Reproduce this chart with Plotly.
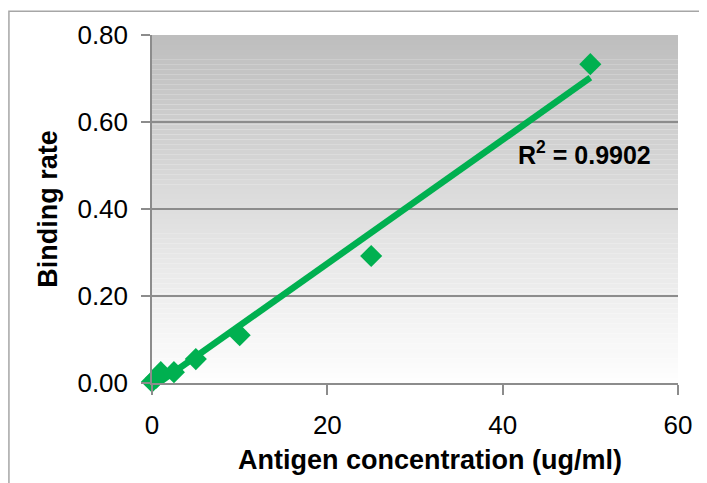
import numpy as np
import plotly.graph_objects as go

# data
concentration = [0, 0.5, 1, 2.5, 5, 10, 25, 50]          # ug/ml
binding_rate = [0.003, 0.012, 0.025, 0.025, 0.055, 0.11, 0.292, 0.733]
r2_text = "R<sup>2</sup> = 0.9902"
x_ticks = [0, 20, 40, 60]
y_ticks = [0.0, 0.2, 0.4, 0.6, 0.8]

GREEN = "#00B050"
GRID = "#8c8c8c"
FONT = "Liberation Sans, Arial, sans-serif"

# linear trendline fitted to the points
slope, intercept = np.polyfit(concentration, binding_rate, 1)
fit_x = [min(concentration), max(concentration)]
fit_y = [slope * v + intercept for v in fit_x]

fig = go.Figure()

# gradient background: grey at top fading to white
n_bands = 70
shapes = []
for i in range(n_bands):
    t = i / (n_bands - 1)
    c = int(round(254 - (254 - 190) * t))
    shapes.append(dict(
        type="rect", xref="x domain", yref="y domain",
        x0=0, x1=1, y0=i / n_bands, y1=(i + 1) / n_bands,
        fillcolor=f"rgb({c},{c},{c})", line_width=0, layer="below",
    ))
# outer chart border (only left/top edges fall inside the window)
shapes.append(dict(
    type="rect", xref="paper", yref="paper",
    x0=-0.272, x1=1.2, y0=-0.5, y1=1.0686,
    line=dict(color="#a6a6a6", width=1.5), fillcolor="rgba(0,0,0,0)",
))

fig.add_trace(go.Scatter(
    x=fit_x, y=fit_y, mode="lines",
    line=dict(color=GREEN, width=6.5),
    hoverinfo="skip", showlegend=False, cliponaxis=False,
))
fig.add_trace(go.Scatter(
    x=concentration, y=binding_rate, mode="markers",
    marker=dict(symbol="diamond", size=17, color=GREEN),
    showlegend=False, cliponaxis=False,
))

fig.add_annotation(
    x=0.952, y=0.66, xref="paper", yref="paper",
    text=f"<b>{r2_text}</b>", showarrow=False,
    font=dict(size=25, color="black", family=FONT),
    xanchor="right", yanchor="middle",
)
# x title placed as an annotation (sits a little right of centre in the original)
fig.add_annotation(
    x=0.529, y=-0.22, xref="paper", yref="paper",
    text="<b>Antigen concentration (ug/ml)</b>", showarrow=False,
    font=dict(size=27, color="black", family=FONT),
    xanchor="center", yanchor="middle",
)

fig.update_layout(
    width=699, height=475,
    margin=dict(l=144, r=29, t=25, b=100),
    paper_bgcolor="white",
    plot_bgcolor="rgba(0,0,0,0)",
    font=dict(family=FONT, color="black", size=26),
    shapes=shapes,
)
fig.update_xaxes(
    range=[0, 60], tickvals=x_ticks, ticktext=[str(v) for v in x_ticks],
    showgrid=False, zeroline=False,
    showline=True, linecolor=GRID, linewidth=1.5,
    ticks="outside", ticklen=10, tickcolor=GRID, tickwidth=1.5,
    ticklabelstandoff=8,
)
fig.update_yaxes(
    range=[0, 0.8], tickvals=y_ticks, ticktext=[f"{v:.2f}" for v in y_ticks],
    showgrid=True, gridcolor=GRID, gridwidth=1.5, zeroline=False,
    showline=True, linecolor=GRID, linewidth=1.5,
    ticks="outside", ticklen=9, tickcolor=GRID, tickwidth=1.5,
    ticklabelstandoff=8,
    title=dict(text="<b>Binding rate</b>", font=dict(size=27), standoff=12),
)

fig.write_html("out.html")
